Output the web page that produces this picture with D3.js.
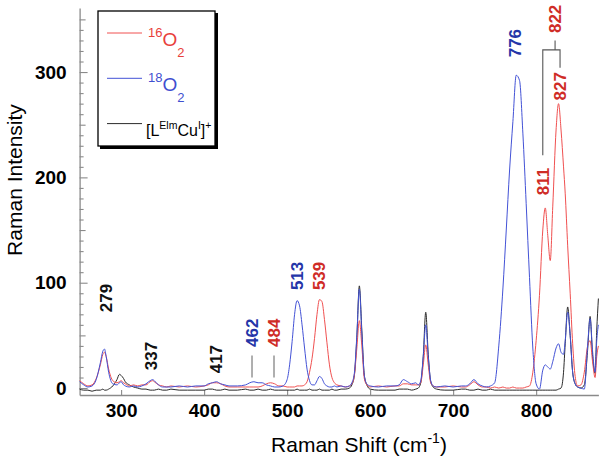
<!DOCTYPE html>
<html>
<head>
<meta charset="utf-8">
<script src="https://cdn.jsdelivr.net/npm/d3@7"></script>
<style>
  body { margin: 0; background: #fff; }
  svg { display: block; font-family: "Liberation Sans", Arial, sans-serif; }
</style>
</head>
<body>
<svg id="chart" width="602" height="459"></svg>
<script>
// Raman shift grid (cm-1), shared by all three spectra
const shift = [
  250,255,260,265,270,275,278,280,282,285,
  290,295,298,300,303,305,310,315,320,325,
  330,335,338,340,345,350,355,360,370,380,
  390,400,405,410,415,420,425,430,440,450,
  455,460,465,470,475,480,485,490,495,500,
  503,506,509,512,515,518,521,524,527,530,
  533,536,539,542,545,548,551,554,557,560,
  565,570,575,578,581,584,587,590,593,596,
  600,610,620,630,635,640,645,650,655,658,
  661,664,667,670,673,676,680,690,700,710,
  715,720,725,730,735,740,745,750,755,760,
  764,768,772,776,780,784,788,792,796,800,
  804,808,811,814,817,820,824,827,830,833,
  835,838,841,844,847,850,854,858,862,865,
  868,871,873,875
];

// 16O2 spectrum (red)
const o16 = [
  7,4,2,3,9,22,32,34,30,18,
  7,5,6,7,5,4,2,3,2,3,
  3,6,7,6,3,2,1,2,1,2,
  1,2,3,5,5,4,2,1,1,1,
  1,1,1,2,4,5,4,2,2,1,
  1,1,1,2,2,2,3,6,15,28,
  47,70,84,82,65,43,22,10,5,3,
  2,1,2,4,12,38,64,40,9,3,
  1,2,1,2,2,4,4,3,3,3,
  5,22,41,22,5,2,1,1,2,1,
  1,3,6,3,1,1,0,1,0,1,
  0,0,1,0,0,0,1,2,15,45,
  88,150,171,145,121,172,245,270,245,210,
  185,135,90,42,11,2,3,15,40,45,
  25,10,30,40
];

// 18O2 spectrum (blue)
const o18 = [
  6,3,1,2,8,24,35,37,30,15,
  4,3,5,6,3,2,1,2,1,2,
  4,7,8,7,3,1,1,1,2,1,
  2,2,4,5,6,4,3,2,2,3,
  5,6,5,5,3,2,1,1,2,8,
  22,44,70,83,78,60,38,18,7,3,
  3,7,11,9,4,2,1,1,2,1,
  2,1,2,5,14,50,94,52,12,4,
  2,1,2,2,3,8,6,4,5,3,
  7,30,60,30,7,2,1,2,1,2,
  2,4,8,4,2,1,2,5,40,95,
  150,207,253,297,292,242,175,105,38,4,
  -1,17,22,20,18,25,38,42,34,32,
  45,72,50,15,4,1,0,-1,40,66,
  35,15,45,60
];

// [L(Elm)Cu(I)]+ spectrum (black)
const cuComplex = [
  -1,-2,-2,-3,-2,-2,-1,-2,-2,-1,
  2,8,13,12,9,6,3,1,0,-1,
  -1,-2,-2,-2,-1,-2,-2,-1,-2,-2,
  -2,-2,-1,-1,-2,-2,-1,-2,-2,-1,
  -2,-2,-1,-2,-2,-1,-2,-2,-2,-2,
  -2,-2,-2,-1,-2,-2,-2,-2,-1,-2,
  -2,-2,-1,-2,-2,-2,-2,-1,-2,-2,
  -1,-1,0,3,12,48,97,55,12,3,
  -1,-2,-2,-2,-1,-1,-1,-2,-1,0,
  5,30,72,32,6,1,-1,-2,-2,-1,
  -1,-2,-2,-1,-2,-2,-1,-2,-2,-2,
  -2,-2,-2,-2,-2,-2,-2,-2,-2,-2,
  -2,-2,-2,-2,-2,-2,-2,-1,0,15,
  42,77,50,15,4,1,0,3,36,68,
  30,14,55,85
];

const xTicks = [300, 400, 500, 600, 700, 800];
const yTicks = [0, 100, 200, 300];

// peak annotations: label, position (cm-1), bottom of text (intensity), colour
const peakLabels  = ['279', '337', '417', '462', '484', '513', '539', '776', '811', '822', '827'];
const peakShift   = [282, 337, 415, 457.7, 484.2, 513, 539.5, 774.6, 808.3, 822.8, 828.8];
const peakBottom  = [72, 17, 14, 39, 39, 93, 93, 314, 183, 337, 273];
const peakColor   = ['k', 'k', 'k', 'b', 'r', 'b', 'r', 'b', 'r', 'r', 'r'];

const colors = { r: '#f05050', b: '#4352d6', k: '#2a2a2a' };
const labelColors = { r: '#cf2c26', b: '#2435a8', k: '#111' };

const svg = d3.select('#chart');

const x = d3.scaleLinear().domain([250, 875]).range([79.6, 598.4]);
const y = d3.scaleLinear().domain([-6.6, 360.8]).range([395, 8]);

const axisColor = '#8a8a8a';

// Y axis: minor ticks every 10, medium at 50s, labelled majors at 100s
const yMinor = d3.range(0, 360, 10).filter(v => v % 50 !== 0);
const yMid = [50, 150, 250, 350];

function styleAxis(g) {
  g.select('.domain').attr('stroke', axisColor).attr('stroke-width', 1.3);
  g.selectAll('.tick line').attr('stroke', axisColor).attr('stroke-width', 1.1);
}

svg.append('g')
  .attr('transform', `translate(${x.range()[0]},0)`)
  .call(d3.axisLeft(y).tickValues(yMinor).tickSizeInner(-4).tickSizeOuter(0).tickFormat(''))
  .call(styleAxis);

svg.append('g')
  .attr('transform', `translate(${x.range()[0]},0)`)
  .call(d3.axisLeft(y).tickValues(yMid).tickSizeInner(-6).tickSizeOuter(0).tickFormat(''))
  .call(g => g.select('.domain').remove())
  .call(styleAxis);

svg.append('g')
  .attr('transform', `translate(${x.range()[0]},0)`)
  .call(d3.axisLeft(y).tickValues(yTicks).tickSizeInner(-8).tickSizeOuter(0).tickPadding(13))
  .call(g => g.select('.domain').remove())
  .call(styleAxis)
  .selectAll('text')
    .attr('font-size', 19)
    .attr('font-weight', 'bold')
    .attr('fill', '#000');

// X axis
svg.append('g')
  .attr('transform', `translate(0,${y.range()[0]})`)
  .call(d3.axisBottom(x).tickValues(xTicks).tickSizeInner(-5).tickSizeOuter(0).tickPadding(9))
  .call(styleAxis)
  .selectAll('text')
    .attr('font-size', 19)
    .attr('font-weight', 'bold')
    .attr('fill', '#000');

// spectra
const line = d3.line()
  .x((d, i) => x(shift[i]))
  .y(d => y(d))
  .curve(d3.curveMonotoneX);

[[cuComplex, 'k'], [o16, 'r'], [o18, 'b']].forEach(([vals, c]) => {
  svg.append('path')
    .datum(vals)
    .attr('d', line)
    .attr('fill', 'none')
    .attr('stroke', colors[c])
    .attr('stroke-width', 1)
    .attr('stroke-linejoin', 'round');
});

// peak labels (rotated)
peakLabels.forEach((t, i) => {
  svg.append('text')
    .attr('transform', `translate(${x(peakShift[i])},${y(peakBottom[i])}) rotate(-90)`)
    .attr('dominant-baseline', 'central')
    .attr('font-size', 17)
    .attr('font-weight', 'bold')
    .attr('fill', labelColors[peakColor[i]])
    .text(t);
});

// leader lines for 462 / 484
const leader = svg.append('g').attr('stroke', '#7a7a7a').attr('stroke-width', 1.2);
[457.7, 484.2].forEach(v => {
  leader.append('line')
    .attr('x1', x(v)).attr('x2', x(v))
    .attr('y1', y(31)).attr('y2', y(10));
});

// bracket linking 811 / 822 / 827
svg.append('path')
  .attr('fill', 'none')
  .attr('stroke', '#555')
  .attr('stroke-width', 1.1)
  .attr('d', [
    `M${x(808)},${y(221)} V${y(321)} H${x(828.8)} V${y(304)}`,
    `M${x(822.8)},${y(321)} V${y(330)}`
  ].join(' '));

// axis titles
svg.append('text')
  .attr('transform', 'translate(22,180) rotate(-90)')
  .attr('text-anchor', 'middle')
  .attr('font-size', 21)
  .attr('fill', '#000')
  .text('Raman Intensity');

const xt = svg.append('text')
  .attr('x', 359).attr('y', 452)
  .attr('text-anchor', 'middle')
  .attr('font-size', 21)
  .attr('fill', '#000');
xt.append('tspan').text('Raman Shift (cm');
xt.append('tspan').attr('font-size', 14).attr('dy', -9).text('-1');
xt.append('tspan').attr('dy', 9).text(')');

// legend
const lg = svg.append('g');
lg.append('rect')
  .attr('x', 98).attr('y', 11).attr('width', 117).attr('height', 135)
  .attr('fill', '#fff').attr('stroke', '#000').attr('stroke-width', 1.3);
lg.append('path')
  .attr('fill', 'none').attr('stroke', '#000').attr('stroke-width', 3)
  .attr('d', 'M100,147.5 H216.5 V13');

const legendY = [33, 78.3, 123.6];
const legendKeys = ['r', 'b', 'k'];
legendKeys.forEach((c, i) => {
  lg.append('line')
    .attr('x1', 107).attr('x2', 142)
    .attr('y1', legendY[i]).attr('y2', legendY[i])
    .attr('stroke', colors[c]).attr('stroke-width', 1);
});

function isotope(i, mass) {
  const t = lg.append('text')
    .attr('x', 148).attr('y', legendY[i] + 12.5)
    .attr('fill', legendKeys[i] === 'r' ? '#e8403a' : '#3f4fd0');
  t.append('tspan').attr('font-size', 13).attr('dy', -8.5).text(mass);
  t.append('tspan').attr('font-size', 19).attr('dy', 8.5).text('O');
  t.append('tspan').attr('font-size', 13).attr('dy', 11).text('2');
}
isotope(0, '16');
isotope(1, '18');

const cu = lg.append('text')
  .attr('x', 146).attr('y', legendY[2] + 12.5)
  .attr('fill', '#000').attr('font-size', 16);
cu.append('tspan').text('[L');
cu.append('tspan').attr('font-size', 10.5).attr('dy', -7.5).text('Elm');
cu.append('tspan').attr('dy', 7.5).text('Cu');
cu.append('tspan').attr('font-size', 10.5).attr('dy', -7.5).text('I');
cu.append('tspan').attr('dy', 7.5).text(']');
cu.append('tspan').attr('font-size', 10.5).attr('dy', -7.5).text('+');
</script>
</body>
</html>
